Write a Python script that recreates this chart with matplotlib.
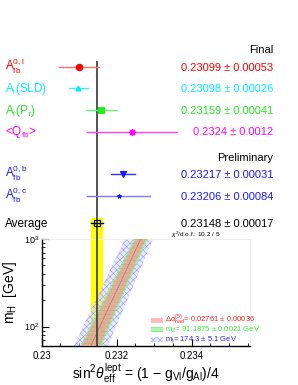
import numpy as np
import matplotlib
matplotlib.use("Agg")
import matplotlib.pyplot as plt
from matplotlib.transforms import blended_transform_factory
from matplotlib.patches import Rectangle

plt.rcParams['font.family'] = ['Liberation Sans', 'DejaVu Sans']
plt.rcParams['mathtext.fontset'] = 'custom'
plt.rcParams['mathtext.rm'] = 'Liberation Sans'
plt.rcParams['mathtext.it'] = 'Liberation Sans:italic'
plt.rcParams['mathtext.bf'] = 'Liberation Sans:bold'
plt.rcParams['hatch.linewidth'] = 0.4

# measurements (top panel)
labels = [r'$\mathrm{A}_{\mathrm{fb}}^{0,\mathrm{l}}$', r'$\mathrm{A}_{\mathrm{l}}$(SLD)',
          r'$\mathrm{A}_{\mathrm{l}}(\mathrm{P}_{\tau})$', r'<$\mathrm{Q}_{\mathrm{fb}}$>',
          r'$\mathrm{A}_{\mathrm{fb}}^{0,\mathrm{b}}$', r'$\mathrm{A}_{\mathrm{fb}}^{0,\mathrm{c}}$',
          'Average']
values = [0.23099, 0.23098, 0.23159, 0.2324, 0.23217, 0.23206, 0.23148]
errors = [0.00053, 0.00026, 0.00041, 0.0012, 0.00031, 0.00084, 0.00017]
value_text = ['0.23099 \u00b1 0.00053', '0.23098 \u00b1 0.00026', '0.23159 \u00b1 0.00041',
              '0.2324 \u00b1 0.0012', '0.23217 \u00b1 0.00031', '0.23206 \u00b1 0.00084',
              '0.23148 \u00b1 0.00017']
colors = ['#ff0000', '#00f0ff', '#22ee22', '#ff00ff', '#1a1aff', '#1a1aff', '#000000']
bar_colors = ['#ff7070', '#40f0ff', '#70f070', '#ff40ff', '#3030ff', '#7a7aff', '#000000']
markers = ['o', '^', 's', (8, 2, 0), 'v', '*', 's']
msizes = [4.5, 3.5, 4.0, 5.0, 4.0, 3.0, 5.0]
rows = [0, 1, 2, 3, 4.95, 5.98, 7.25]

# SM prediction bands (sin2theta edges at m_H = 60 and 1000 GeV)
mh_ends = [60, 1000]
mt_lo = [0.23086, 0.23222]
mt_hi = [0.23177, 0.23297]
mz_lo = [0.23103, 0.23246]
mz_hi = [0.23160, 0.23283]
da_lo = [0.23107, 0.23251]
da_hi = [0.23155, 0.23278]
band_labels = [r'$\Delta\alpha^{(5)}_{\mathrm{had}}$= 0.02761 ' + '\u00b1 0.00036',
               r'm$_\mathrm{Z}$= 91.1875 ' + '\u00b1 0.0021 GeV',
               r'm$_\mathrm{t}$= 174.3 ' + '\u00b1 5.1 GeV']
band_text_colors = ['#ff2020', '#30ee30', '#2020ff']

W, H = 298, 385
XMIN, XMAX = 0.23, 0.23556
ax_l, ax_r, ax_t, ax_b = 41.6, 250.0, 239.0, 346.0

mt_style = dict(facecolor=(0.86, 0.86, 1.0, 0.6), edgecolor='#9a9aff', hatch='xxxxx', lw=0)
mz_style = dict(facecolor=(0.6, 0.95, 0.6, 0.75), edgecolor='#60e060', hatch='----', lw=0)
da_style = dict(facecolor=(1.0, 0.55, 0.55, 0.6), edgecolor='#ff7070', lw=0)


def main():
    fig = plt.figure(figsize=(W / 100, H / 100), dpi=100)
    ax = fig.add_axes([ax_l / W, 1 - ax_b / H, (ax_r - ax_l) / W, (ax_b - ax_t) / H])
    top = fig.add_axes([ax_l / W, 1 - ax_t / H, (ax_r - ax_l) / W, ax_t / H])

    avg, avg_err = values[-1], errors[-1]

    # ---- top panel
    unit = 21.6
    top.set_xlim(XMIN, XMAX)
    top.set_ylim((ax_t - 66.7) / unit, -66.7 / unit)
    top.axis('off')
    ylo = top.get_ylim()[0]
    top.fill_betweenx([rows[-1] - 0.23, ylo], avg - avg_err, avg + avg_err,
                      color='#ffff00', lw=0, zorder=1)
    top.plot([avg, avg], [-0.22, ylo], color='#444444', lw=1.3, zorder=3)
    tr = blended_transform_factory(top.transAxes, top.transData)
    for i in range(len(values)):
        top.plot([values[i] - errors[i], values[i] + errors[i]], [rows[i], rows[i]],
                 color=bar_colors[i], lw=1.0, zorder=4)
        mfc = 'none' if i == len(values) - 1 else colors[i]
        top.plot(values[i], rows[i], marker=markers[i], ms=msizes[i], color=colors[i],
                 mfc=mfc, mec=colors[i], mew=0.9, zorder=5)
        top.text(-0.176, rows[i] + 0.18, labels[i], color=colors[i], fontsize=8.5,
                 ha='left', va='baseline', transform=tr)
        top.text(1.112, rows[i] + 0.18, value_text[i], color=colors[i], fontsize=8,
                 ha='right', va='baseline', transform=tr)
    top.text(1.112, -0.82 + 0.18, 'Final', fontsize=8, ha='right', va='baseline', transform=tr)
    top.text(1.112, 4.2 + 0.18, 'Preliminary', fontsize=8, ha='right', va='baseline', transform=tr)
    top.text(0.62, rows[-1] + 0.62, r'$\chi^2$/d.o.f.: 10.2 / 5', fontsize=4.6, ha='left',
             va='baseline', transform=tr)

    # ---- bottom panel
    ax.set_yscale('log')
    ax.set_xlim(XMIN, XMAX)
    ax.set_ylim(60, 1000)
    ax.axvspan(avg - avg_err, avg + avg_err, color='#ffff00', lw=0, zorder=1)
    y_poly = [mh_ends[0], mh_ends[1], mh_ends[1], mh_ends[0]]
    ax.fill(mt_lo + mt_hi[::-1], y_poly, zorder=2, **mt_style)
    ax.fill(mz_lo + mz_hi[::-1], y_poly, zorder=3, **mz_style)
    ax.fill(da_lo + da_hi[::-1], y_poly, zorder=4, **da_style)
    mid = [(a + b) / 2 for a, b in zip(da_lo, da_hi)]
    ax.plot(mid, mh_ends, color='#e06060', lw=0.5, zorder=4.5)
    ax.axvline(avg, color='#444444', lw=1.3, zorder=6)

    ax.set_xticks([0.230, 0.232, 0.234])
    ax.set_xticklabels(['0.23', '0.232', '0.234'])
    ax.set_xticks(np.arange(0.2305, XMAX, 0.0005), minor=True)
    ax.tick_params(axis='both', which='both', direction='in', labelsize=7, top=False, right=False)
    ax.tick_params(axis='both', which='major', length=5, width=0.8)
    ax.tick_params(axis='both', which='minor', length=2.5, width=0.6)
    ax.tick_params(axis='y', labelsize=6.5, pad=2)
    for s in ['top', 'right']:
        ax.spines[s].set_color('#ececec')
        ax.spines[s].set_linewidth(0.6)
    for s in ['left', 'bottom']:
        ax.spines[s].set_linewidth(1.0)

    ax.set_ylabel(r'm$_\mathrm{H}$  [GeV]', fontsize=10, labelpad=3)
    ax.set_xlabel(r'$\mathrm{sin}^2\theta^{\mathrm{lept}}_{\mathrm{eff}}$ = (1 $-$ g$_{\mathrm{Vl}}$/g$_{\mathrm{Al}}$)/4',
                  fontsize=10, labelpad=0)

    # legend drawn by hand to get the tight ROOT-style spacing
    for k, (style, lab, c) in enumerate(zip([da_style, mz_style, mt_style], band_labels,
                                            band_text_colors)):
        yc = 320.5 + 9.3 * k
        fig.patches.append(Rectangle((151 / W, 1 - (yc + 2.5) / H), 12 / W, 5 / H,
                                     transform=fig.transFigure, **style))
        fig.text(165 / W, 1 - (yc + 2.3) / H, lab, color=c, fontsize=5.5,
                 ha='left', va='baseline')

    fig.savefig('out.png', dpi=100)


if __name__ == "__main__":
    main()
